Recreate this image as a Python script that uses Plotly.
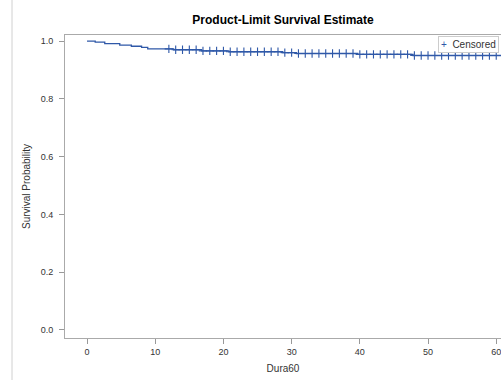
import numpy as np
import plotly.graph_objects as go

# Kaplan-Meier step data
step_times = [0, 1.2, 2.6, 4.8, 6.5, 8.0, 8.9, 12.7, 16.8, 20.8, 28.7, 30.7, 39.7, 47.8, 62]
step_surv = [1.0, 0.996, 0.991, 0.986, 0.982, 0.978, 0.973, 0.970, 0.966, 0.963, 0.960, 0.957, 0.954, 0.950, 0.950]
censor_times = list(range(12, 63))

x_ticks = [0, 10, 20, 30, 40, 50, 60]
y_ticks = [0.0, 0.2, 0.4, 0.6, 0.8, 1.0]

idx = np.searchsorted(step_times, censor_times, side="right") - 1
censor_surv = [step_surv[i] for i in idx]

BLUE = "#2F58A8"
FONT = "Liberation Sans, Arial, sans-serif"

W, H = 501, 380
L, T, B = 65, 35, 42
PW, PH = W - L, H - T - B

fig = go.Figure()
fig.add_trace(go.Scatter(
    x=step_times, y=step_surv, mode="lines", line=dict(color=BLUE, width=1.3, shape="hv"),
    showlegend=False, hoverinfo="skip"))
fig.add_trace(go.Scatter(
    x=censor_times, y=censor_surv, mode="markers", name="Censored", showlegend=False,
    marker=dict(symbol="cross-thin", size=6, line=dict(color=BLUE, width=1.1), color=BLUE)))

fig.update_layout(
    width=W, height=H,
    margin=dict(l=L, r=0, t=T, b=B, autoexpand=False),
    paper_bgcolor="white", plot_bgcolor="white",
    font=dict(family=FONT, color="#333333", size=9),
    title=dict(text="<b>Product-Limit Survival Estimate</b>", x=283 / W, xanchor="center",
               y=1 - 20 / H, yanchor="middle", font=dict(size=12, color="black", family=FONT)),
    showlegend=False,
)
fig.update_xaxes(
    range=[-3.23, 60.7], tickvals=x_ticks, ticks="outside", ticklen=5, tickcolor="#999999",
    showline=True, linecolor="#AAAAAA", linewidth=1, mirror=True, showgrid=False, zeroline=False,
    automargin=False, ticklabeloverflow="allow", ticklabelstandoff=0,
    title=dict(text="Dura60", font=dict(size=10, color="#333333"), standoff=9),
    tickfont=dict(size=9, color="#333333"))
fig.update_yaxes(
    range=[-0.028, 1.021], tickvals=y_ticks, tickformat=".1f", ticks="outside", ticklen=5,
    tickcolor="#999999", showline=True, linecolor="#AAAAAA", linewidth=1, showgrid=False,
    zeroline=False, automargin=False, ticklabelstandoff=4,
    title=dict(text="Survival Probability", font=dict(size=10, color="#333333"), standoff=8),
    tickfont=dict(size=9, color="#333333"))

# legend box drawn as annotation
fig.add_annotation(
    xref="paper", yref="paper", x=(499 - L) / PW, y=(H - B - 36) / PH,
    xanchor="right", yanchor="top", showarrow=False,
    text="<span style='color:%s'>+</span>  Censored" % BLUE,
    font=dict(size=10, color="#333333", family=FONT),
    bgcolor="white", bordercolor="#CCCCCC", borderwidth=1, borderpad=2)

# left border line of the graph image
fig.add_shape(type="line", xref="paper", yref="paper",
              x0=(12 - L) / PW, x1=(12 - L) / PW, y0=-B / PH, y1=(PH + T) / PH,
              line=dict(color="#D0D0D0", width=1))

fig.write_html("out.html", config={"displayModeBar": False},
               post_script="document.body.style.margin='0';document.body.style.overflow='hidden';")
